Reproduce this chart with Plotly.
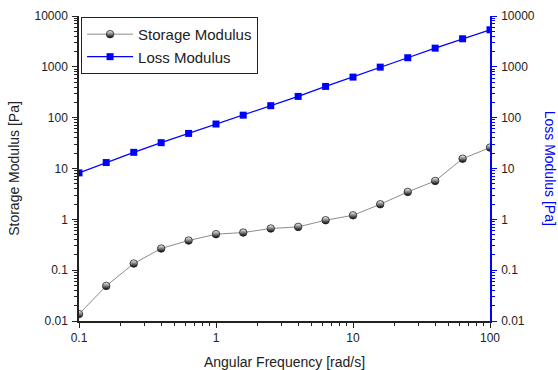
import plotly.graph_objects as go

freq = [0.1, 0.158, 0.251, 0.398, 0.631, 1.0, 1.58, 2.51, 3.98, 6.31, 10, 15.8, 25.1, 39.8, 63.1, 100]
storage = [0.0137, 0.049, 0.135, 0.267, 0.383, 0.51, 0.55, 0.66, 0.71, 0.96, 1.2, 1.98, 3.46, 5.7, 15.6, 25.8]
loss = [8.2, 13.1, 20.8, 32.2, 49, 75, 112, 172, 262, 412, 628, 986, 1510, 2330, 3565, 5355]

y_tickvals = [0.01, 0.1, 1, 10, 100, 1000, 10000]
y_ticktext = ["0.01", "0.1", "1", "10", "100", "1000", "10000"]
x_tickvals = [0.1, 1, 10, 100]
x_ticktext = ["0.1", "1", "10", "100"]

FONT = "Liberation Sans, Arial, sans-serif"
INK = "#222"
BLUE = "#0000ff"

fig = go.Figure()
fig.add_trace(go.Scatter(
    x=freq, y=storage, name="Storage Modulus", mode="lines+markers",
    line=dict(color="#8c8c8c", width=1),
    marker=dict(symbol="circle", size=7.5, color="white",
                gradient=dict(type="vertical", color="black"),
                line=dict(color="#222", width=0.8)),
    xaxis="x", yaxis="y",
))
fig.add_trace(go.Scatter(
    x=freq, y=loss, name="Loss Modulus", mode="lines+markers",
    line=dict(color=BLUE, width=1.3),
    marker=dict(symbol="square", size=7, color=BLUE),
    xaxis="x", yaxis="y2",
))


def yaxis(color, **kw):
    return dict(type="log", range=[-2, 4], tickvals=y_tickvals, ticktext=y_ticktext,
                showgrid=False, zeroline=False, showline=True, automargin=False,
                linecolor=color, linewidth=1.5, ticks="outside", ticklen=5, tickwidth=1,
                tickcolor=color, tickfont=dict(size=12, color=INK, family=FONT),
                ticklabelstandoff=2,
                minor=dict(ticks="outside", ticklen=3, tickwidth=1, tickcolor=color,
                           dtick="D1", showgrid=False), **kw)


def xaxis(**kw):
    return dict(type="log", range=[-1, 2], tickvals=x_tickvals,
                showgrid=False, zeroline=False, showline=True, automargin=False,
                linecolor=INK, linewidth=1.5, ticklen=5, tickwidth=1, tickcolor=INK, **kw)


fig.update_layout(
    width=558, height=370,
    margin=dict(l=79, r=68, t=16, b=49),
    paper_bgcolor="white", plot_bgcolor="white",
    font=dict(family=FONT, size=12, color=INK),
    xaxis=xaxis(ticktext=x_ticktext, ticks="outside",
                minor=dict(ticks="outside", ticklen=3, tickwidth=1, tickcolor=INK,
                           dtick="D1", showgrid=False),
                tickfont=dict(size=12, color=INK),
                title=dict(text="Angular Frequency [rad/s]", font=dict(size=14, color=INK),
                           standoff=13)),
    xaxis2=xaxis(overlaying="x", side="top", anchor="y", ticks="inside",
                 showticklabels=False,
                 minor=dict(ticks="inside", ticklen=3, tickwidth=1, tickcolor=INK,
                            dtick="D1", showgrid=False)),
    yaxis=yaxis(INK, title=dict(text="Storage Modulus [Pa]",
                                font=dict(size=14, color=INK), standoff=12)),
    yaxis2=yaxis(BLUE, overlaying="y", side="right", anchor="x"),
    legend=dict(x=0.005, y=0.997, xanchor="left", yanchor="top", bgcolor="white",
                bordercolor=INK, borderwidth=1, font=dict(size=15, color=INK),
                tracegroupgap=0, itemwidth=46),
    showlegend=True,
)

fig.add_annotation(text="Loss Modulus [Pa]", xref="paper", yref="paper", x=1.148, y=0.5,
                   textangle=90, showarrow=False, font=dict(size=14, color=BLUE),
                   xanchor="center", yanchor="middle")

fig.write_html("out.html", post_script="document.body.style.margin='0px';",
               config={"displayModeBar": False})
